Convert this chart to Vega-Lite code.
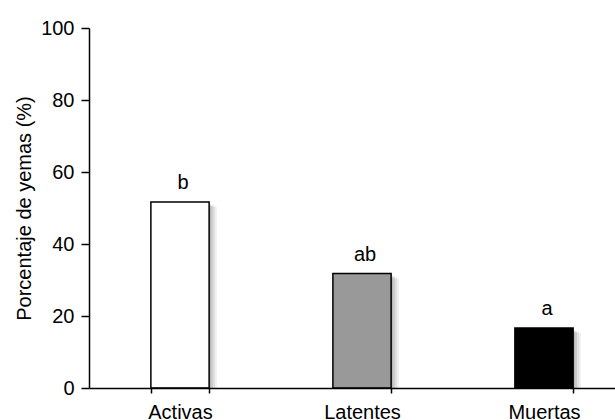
{
  "$schema": "https://vega.github.io/schema/vega-lite/v6.json",
  "width": 526,
  "height": 360,
  "autosize": {"type": "none"},
  "padding": {"left": 89, "top": 28, "right": 0, "bottom": 32},
  "background": "white",
  "config": {
    "view": {"stroke": null},
    "font": "Liberation Sans",
    "axis": {"labelFont": "Liberation Sans", "titleFont": "Liberation Sans", "labelColor": "black", "titleColor": "black", "domainColor": "black", "tickColor": "black", "grid": false, "labelFontSize": 20, "titleFontSize": 20, "titleFontWeight": "normal"}
  },
  "data": {
    "values": [
      {"categoria": "Activas", "porcentaje": 51.7, "letra": "b"},
      {"categoria": "Latentes", "porcentaje": 31.8, "letra": "ab"},
      {"categoria": "Muertas", "porcentaje": 16.7, "letra": "a"}
    ]
  },
  "encoding": {
    "x": {
      "field": "categoria",
      "type": "nominal",
      "sort": null,
      "scale": {"range": [0, 546], "paddingInner": 0.68, "paddingOuter": 0.34},
      "axis": {"title": null, "labelAngle": 0, "tickBand": "extent", "tickSize": 5, "labelPadding": 9, "domainWidth": 1.5, "tickWidth": 1.5, "zindex": 1}
    },
    "y": {
      "field": "porcentaje",
      "type": "quantitative",
      "scale": {"domain": [0, 100], "nice": false},
      "axis": {"title": "Porcentaje de yemas (%)", "values": [0, 20, 40, 60, 80, 100], "tickSize": 8, "labelPadding": 7, "domainWidth": 1.5, "tickWidth": 1.5, "titlePadding": 6, "zindex": 1}
    }
  },
  "layer": [
    {"mark": {"type": "bar", "color": "#000000", "opacity": 0.09, "xOffset": 2, "yOffset": 2, "clip": true}},
    {"mark": {"type": "bar", "color": "#000000", "opacity": 0.09, "xOffset": 4, "yOffset": 3, "clip": true}},
    {"mark": {"type": "bar", "color": "#000000", "opacity": 0.07, "xOffset": 6, "yOffset": 4, "clip": true}},
    {"mark": {"type": "bar", "color": "#000000", "opacity": 0.05, "xOffset": 8, "yOffset": 5, "clip": true}},
    {
      "mark": {"type": "bar", "stroke": "black", "strokeWidth": 1.5, "opacity": 1},
      "encoding": {
        "fill": {"field": "categoria", "type": "nominal", "sort": null, "scale": {"range": ["#ffffff", "#999999", "#000000"]}, "legend": null}
      }
    },
    {
      "mark": {"type": "text", "fontSize": 20, "color": "black", "baseline": "alphabetic", "dy": -13, "dx": 3},
      "encoding": {"text": {"field": "letra"}}
    }
  ]
}
